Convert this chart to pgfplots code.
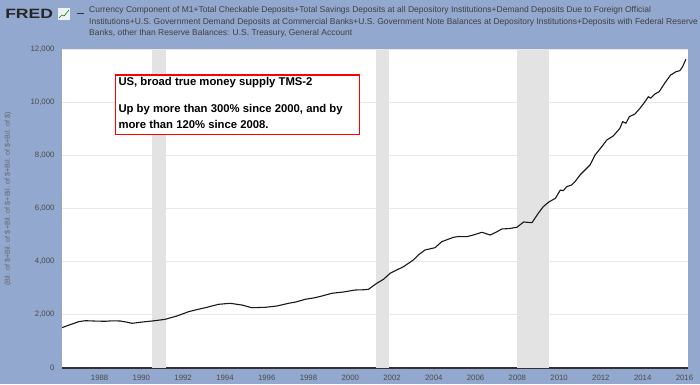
\documentclass[border=0pt]{standalone}
\usepackage{pgfplots}
\pgfplotsset{compat=1.18}
\usepackage{fontspec}
\setmainfont{Liberation Sans}
\definecolor{bgblue}{HTML}{93A8CF}
\definecolor{recgrey}{HTML}{E3E3E3}
\definecolor{gridgrey}{HTML}{E8E8E8}
\definecolor{ticktext}{HTML}{4A4A4A}
\begin{document}
\begin{tikzpicture}[x=1pt,y=1pt]
\fill[bgblue] (0,0) rectangle (700,384);
\useasboundingbox (0,0) rectangle (700,384);
% header
\node[anchor=west, inner sep=0, xscale=1.3, font=\fontsize{13.5}{14}\bfseries\selectfont, color=black!85] at (5,370) {FRED};
\fill[white!85!bgblue] (58,364) rectangle (70,376);
\draw[green!50!black, line width=0.6pt] (59,366) -- (62,369) -- (64,368) -- (69,374);
\draw[black!80, line width=1pt] (77,370) -- (84,370);
\begin{scope}[font=\fontsize{8.5}{9}\selectfont, color=black!75]
\node[anchor=west, inner sep=0] at (89,373.5) {Currency Component of M1+Total Checkable Deposits+Total Savings Deposits at all Depository Institutions+Demand Deposits Due to Foreign Official};
\node[anchor=west, inner sep=0] at (89,362) {Institutions+U.S. Government Demand Deposits at Commercial Banks+U.S. Government Note Balances at Depository Institutions+Deposits with Federal Reserve};
\node[anchor=west, inner sep=0] at (89,350.5) {Banks, other than Reserve Balances: U.S. Treasury, General Account};
\end{scope}
\node[rotate=90, font=\fontsize{7.2}{7.5}\selectfont, color=black!60] at (8,185) {(Bil. of \$+Bil. of \$+Bil. of \$+Bil. of \$+Bil. of \$+Bil. of \$)};
\begin{axis}[
  at={(62pt,16.3pt)}, anchor=south west,
  scale only axis, width=626pt, height=318pt,
  xmin=1986.2, xmax=2016.17, ymin=0, ymax=12000,
  axis background/.style={fill=white},
  axis x line*=bottom, axis y line*=left,
  y axis line style={draw=none},
  x axis line style={line width=1.6pt, color=black!80},
  xtick={1988,1990,...,2016},
  ytick={0,2000,...,12000},
  scaled y ticks=false, scaled x ticks=false,
  ymajorgrids, grid style={color=gridgrey, line width=1pt},
  ytick style={draw=none},
  xtick style={color=black!40, line width=0.5pt},
  xtick align=outside, major tick length=2.5pt,
  /pgf/number format/assume math mode=true,
  xticklabel style={font=\fontsize{7.8}{8}\selectfont, color=ticktext, /pgf/number format/1000 sep={}, yshift=-1pt},
  yticklabel style={font=\fontsize{7.8}{8}\selectfont, color=ticktext, /pgf/number format/1000 sep={,}, xshift=-4pt},
  clip=true,
]
\addplot[fill=recgrey, draw=none] coordinates {(1990.51,0) (1990.51,12000) (1991.16,12000) (1991.16,0)} -- cycle;
\addplot[fill=recgrey, draw=none] coordinates {(2001.22,0) (2001.22,12000) (2001.86,12000) (2001.86,0)} -- cycle;
\addplot[fill=recgrey, draw=none] coordinates {(2007.98,0) (2007.98,12000) (2009.50,12000) (2009.50,0)} -- cycle;
\addplot[color=black!90, line width=1.1pt, line join=round] coordinates {
(1986.20,1510) (1986.50,1600) (1986.80,1680) (1986.99,1736) (1987.32,1774) (1987.80,1760)
(1988.27,1751) (1988.60,1770) (1988.99,1762) (1989.30,1720) (1989.55,1675) (1990.00,1720)
(1990.51,1762) (1990.80,1790) (1991.14,1826) (1991.70,1951) (1992.26,2113) (1992.70,2200)
(1993.06,2264) (1993.69,2392) (1994.25,2430) (1994.81,2366) (1995.29,2264) (1995.93,2279)
(1996.50,2330) (1997.04,2430) (1997.40,2480) (1997.84,2581) (1998.30,2640) (1998.64,2706)
(1999.12,2808) (1999.70,2860) (2000.23,2932) (2000.60,2940) (2000.87,2958) (2001.27,3185)
(2001.59,3336) (2001.91,3563) (2002.20,3680) (2002.55,3812) (2003.02,4065) (2003.30,4280)
(2003.58,4442) (2004.06,4529) (2004.38,4755) (2004.94,4921) (2005.20,4950) (2005.58,4944)
(2005.90,5010) (2006.30,5110) (2006.70,5008) (2007.00,5120) (2007.26,5235) (2007.60,5250)
(2007.98,5299) (2008.30,5499) (2008.70,5472) (2009.00,5827) (2009.24,6076) (2009.50,6250)
(2009.82,6393) (2010.06,6706) (2010.20,6680) (2010.36,6831) (2010.60,6895) (2010.76,7020)
(2011.00,7272) (2011.24,7461) (2011.48,7650) (2011.72,8027) (2012.04,8340) (2012.28,8593)
(2012.59,8744) (2012.91,9035) (2013.04,9284) (2013.20,9224) (2013.36,9473) (2013.63,9575)
(2013.87,9790) (2014.11,10039) (2014.27,10228) (2014.38,10167) (2014.59,10330) (2014.79,10416)
(2015.07,10756) (2015.34,11046) (2015.60,11171) (2015.78,11209) (2015.91,11360) (2016.07,11639)
};
\end{axis}
% annotation box
\draw[red, fill=white, line width=1.3pt] (115.7,249.7) rectangle (359.3,309);
\begin{scope}[font=\fontsize{11.3}{12}\bfseries\selectfont]
\node[anchor=base west, inner sep=0] at (118.3,299) {US, broad true money supply TMS-2};
\node[anchor=base west, inner sep=0] at (118.3,272) {Up by more than 300\% since 2000, and by};
\node[anchor=base west, inner sep=0] at (118.3,255.5) {more than 120\% since 2008.};
\end{scope}
\end{tikzpicture}
\end{document}
